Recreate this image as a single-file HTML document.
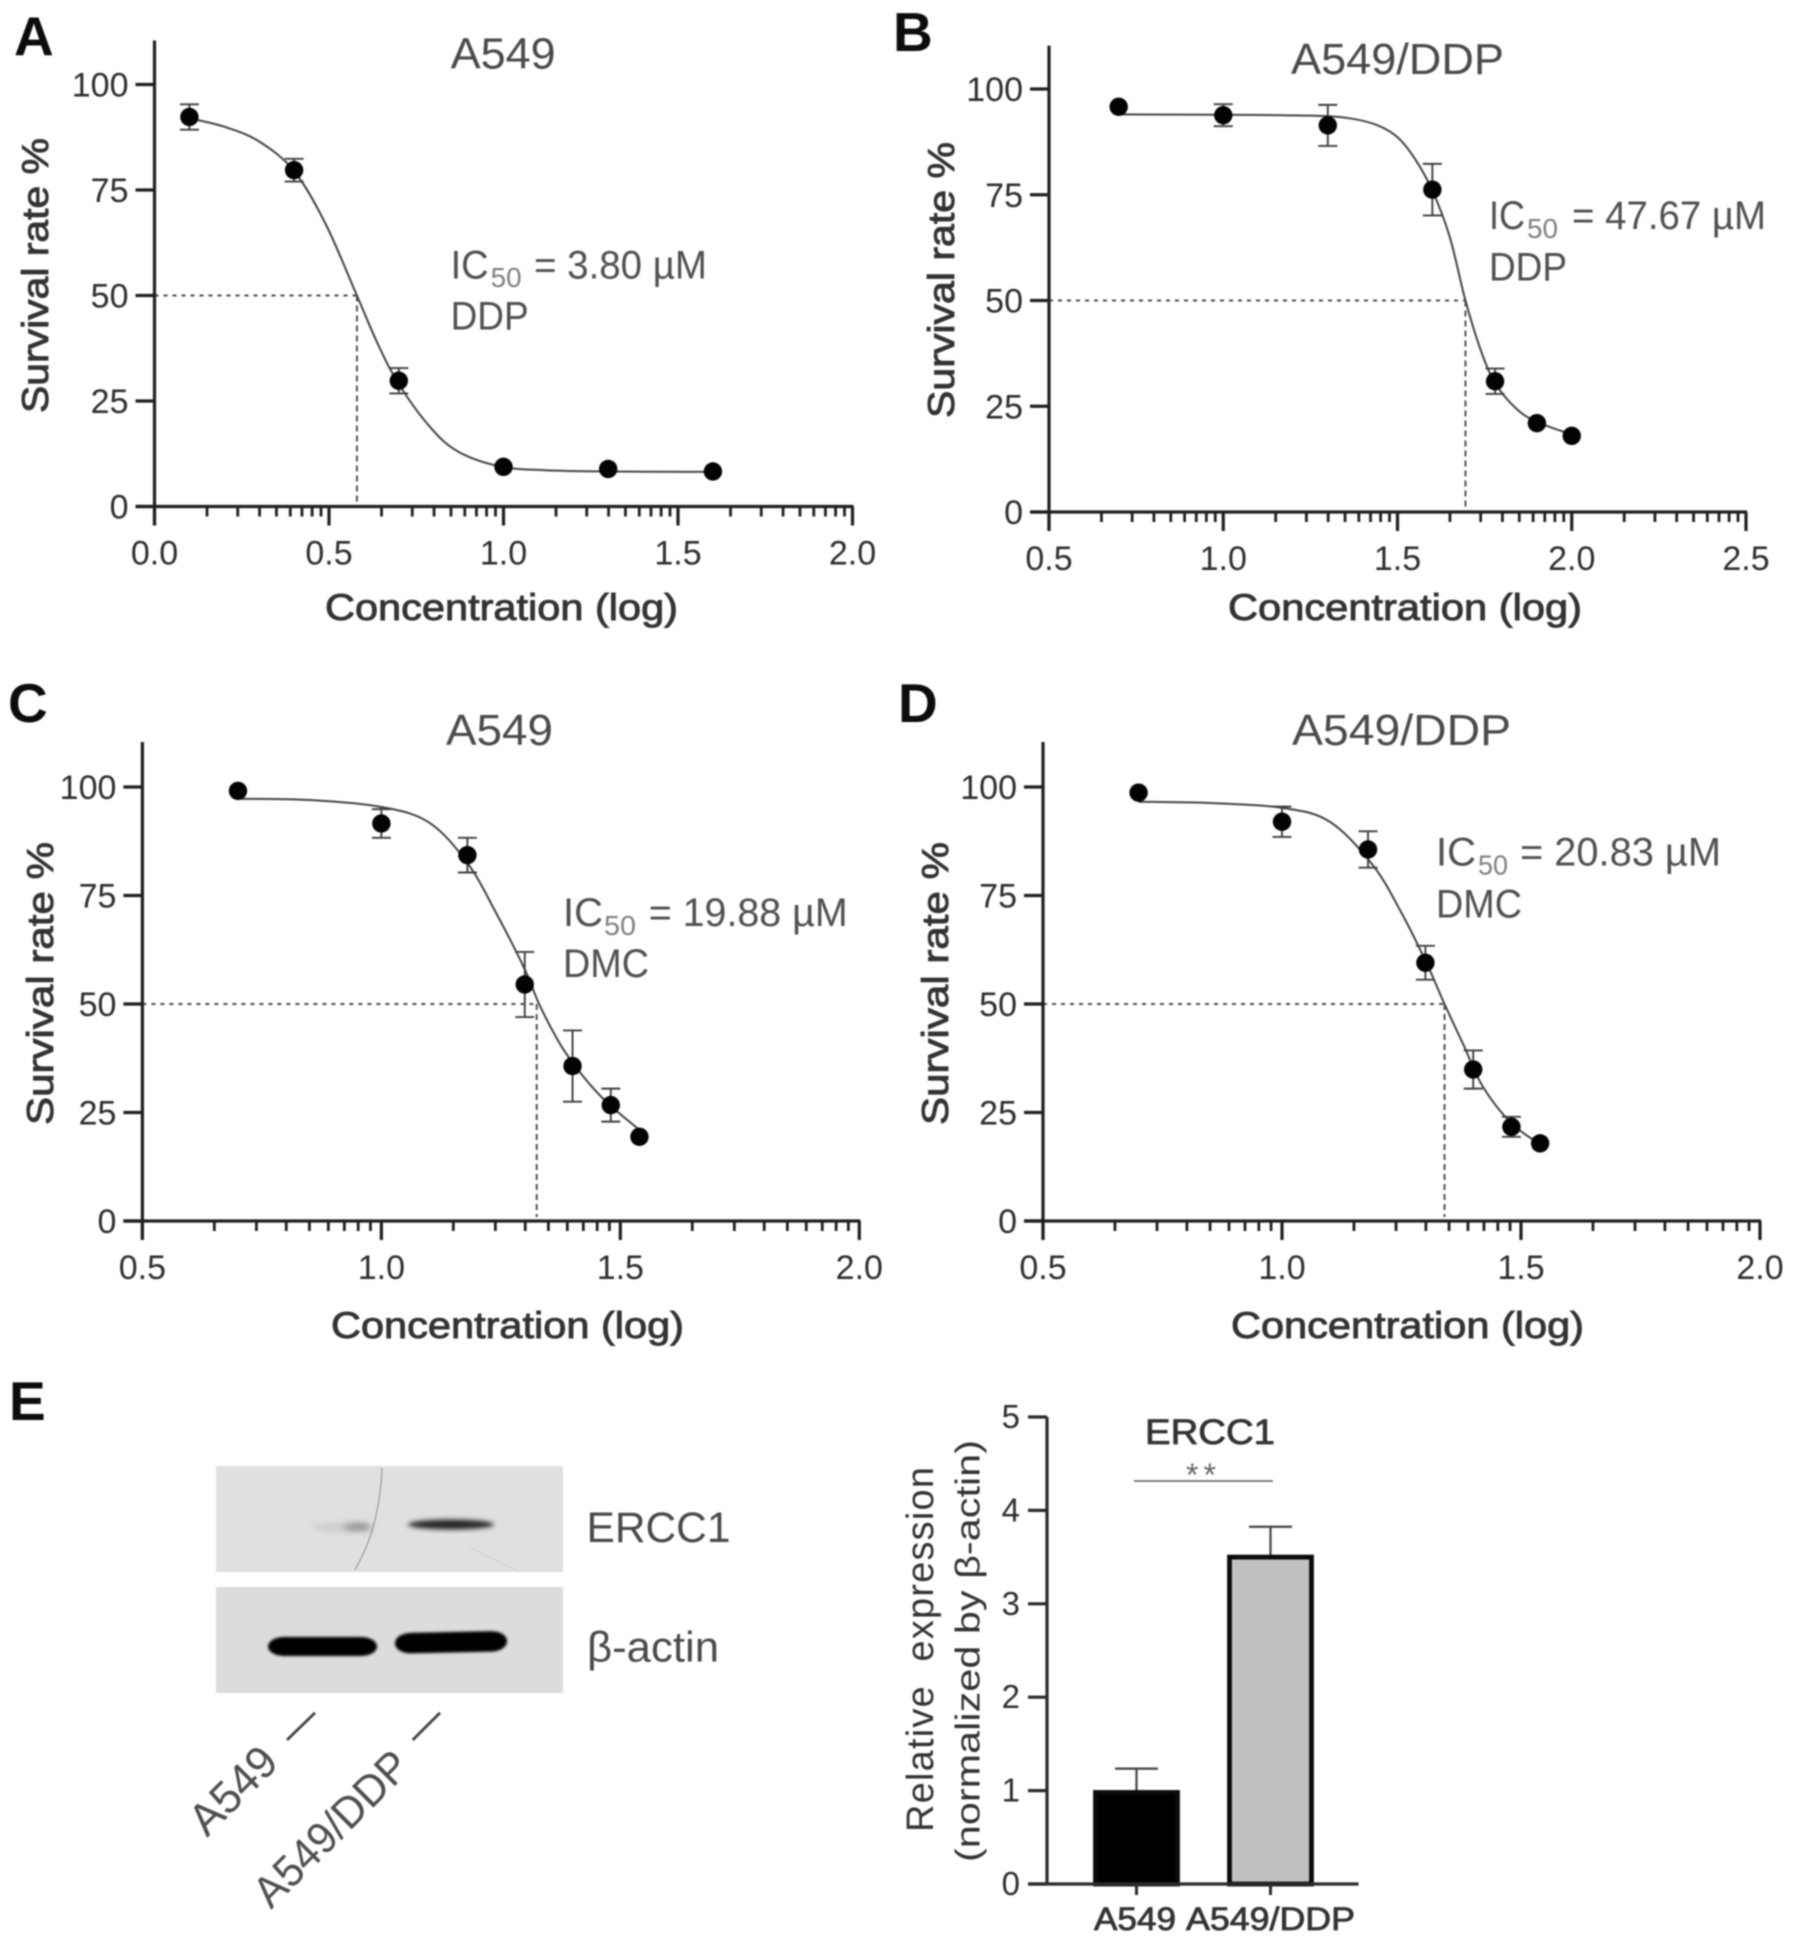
<!DOCTYPE html>
<html lang="en">
<head>
<meta charset="utf-8">
<title>Survival curves and ERCC1 expression</title>
<style>
html,body{margin:0;padding:0;background:#fff;}
#figure{display:block;width:1795px;height:1944px;filter:blur(0.8px);font-family:"Liberation Sans",sans-serif;}
.letter{font-size:55px;font-weight:bold;fill:#0c0c0c;}
.title{font-size:44px;fill:#4a4a4a;}
.ic{font-size:40px;fill:#505050;}
.sub{font-size:28px;fill:#808080;}
.xt{font-size:37px;fill:#333;stroke:#333;stroke-width:0.9px;}
.tick{font-size:34px;fill:#2e2e2e;}
.ylab{font-size:37px;fill:#333;stroke:#333;stroke-width:0.9px;}
</style>
</head>
<body>
<svg id="figure" xmlns="http://www.w3.org/2000/svg" width="1795" height="1944" viewBox="0 0 1795 1944">
<defs>
<filter id="b1" x="-30%" y="-150%" width="160%" height="400%"><feGaussianBlur stdDeviation="2.4"/></filter>
<filter id="b2" x="-50%" y="-150%" width="200%" height="400%"><feGaussianBlur stdDeviation="3.2"/></filter>
<filter id="b3" x="-20%" y="-60%" width="140%" height="220%"><feGaussianBlur stdDeviation="1.2"/></filter>
</defs>
<rect width="1795" height="1944" fill="#fff"/>

<text class="letter" x="14" y="55">A</text>
<text class="letter" x="893" y="51">B</text>
<text class="letter" x="8" y="722">C</text>
<text class="letter" x="898" y="722">D</text>
<text class="letter" x="9" y="1420">E</text>

<text class="title" x="450.6" y="68.4" textLength="105" lengthAdjust="spacingAndGlyphs">A549</text>
<text class="title" x="1291" y="73.8" textLength="213" lengthAdjust="spacingAndGlyphs">A549/DDP</text>
<text class="title" x="446" y="745" textLength="107" lengthAdjust="spacingAndGlyphs">A549</text>
<text class="title" x="1292" y="745" textLength="219" lengthAdjust="spacingAndGlyphs">A549/DDP</text>

<g>
<text class="ic" x="450.6" y="278.5" textLength="38" lengthAdjust="spacingAndGlyphs">IC</text>
<text class="sub" x="490.6" y="287" textLength="31" lengthAdjust="spacingAndGlyphs">50</text>
<text class="ic" x="534" y="278.5" textLength="173" lengthAdjust="spacingAndGlyphs">= 3.80 µM</text>
<text class="ic" x="450.6" y="329.5" textLength="78" lengthAdjust="spacingAndGlyphs">DDP</text>
</g>
<g>
<text class="ic" x="1489" y="229" textLength="36" lengthAdjust="spacingAndGlyphs">IC</text>
<text class="sub" x="1527" y="238" textLength="31" lengthAdjust="spacingAndGlyphs">50</text>
<text class="ic" x="1572" y="229" textLength="194" lengthAdjust="spacingAndGlyphs">= 47.67 µM</text>
<text class="ic" x="1489" y="280.6" textLength="78" lengthAdjust="spacingAndGlyphs">DDP</text>
</g>
<g>
<text class="ic" x="563" y="926" textLength="40" lengthAdjust="spacingAndGlyphs">IC</text>
<text class="sub" x="604" y="935" textLength="32" lengthAdjust="spacingAndGlyphs">50</text>
<text class="ic" x="648.7" y="926" textLength="199" lengthAdjust="spacingAndGlyphs">= 19.88 µM</text>
<text class="ic" x="563" y="977" textLength="86" lengthAdjust="spacingAndGlyphs">DMC</text>
</g>
<g>
<text class="ic" x="1436" y="865.6" textLength="40" lengthAdjust="spacingAndGlyphs">IC</text>
<text class="sub" x="1478" y="874.6" textLength="30" lengthAdjust="spacingAndGlyphs">50</text>
<text class="ic" x="1520" y="865.6" textLength="201" lengthAdjust="spacingAndGlyphs">= 20.83 µM</text>
<text class="ic" x="1436" y="917.7" textLength="86" lengthAdjust="spacingAndGlyphs">DMC</text>
</g>

<text class="xt" x="325" y="620" textLength="353" lengthAdjust="spacingAndGlyphs">Concentration (log)</text>
<text class="xt" x="1228" y="620" textLength="354" lengthAdjust="spacingAndGlyphs">Concentration (log)</text>
<text class="xt" x="331" y="1338" textLength="353" lengthAdjust="spacingAndGlyphs">Concentration (log)</text>
<text class="xt" x="1231" y="1338" textLength="353" lengthAdjust="spacingAndGlyphs">Concentration (log)</text>

<text class="ylab" transform="translate(48,413) rotate(-90)" textLength="275" lengthAdjust="spacingAndGlyphs">Survival rate %</text>
<text class="ylab" transform="translate(954,418) rotate(-90)" textLength="276" lengthAdjust="spacingAndGlyphs">Survival rate %</text>
<text class="ylab" transform="translate(53,1125) rotate(-90)" textLength="283" lengthAdjust="spacingAndGlyphs">Survival rate %</text>
<text class="ylab" transform="translate(948,1125) rotate(-90)" textLength="283" lengthAdjust="spacingAndGlyphs">Survival rate %</text>

<g id="panels"></g>

<g>
<rect x="216" y="1466" width="347" height="106" fill="#e0e0e0"/>
<path d="M382 1468 Q381 1495 375 1520 T355 1570" fill="none" stroke="#959595" stroke-width="1.1"/>
<path d="M470 1548 L518 1571" fill="none" stroke="#d0d0d0" stroke-width="1"/>
<ellipse cx="340" cy="1527" rx="28" ry="3.5" fill="#c8c8c8" filter="url(#b2)"/>
<ellipse cx="358" cy="1527" rx="14" ry="3.6" fill="#8e8e8e" filter="url(#b2)"/>
<ellipse cx="451" cy="1524.5" rx="43" ry="5" fill="#262626" filter="url(#b1)"/>
</g>
<g>
<rect x="216" y="1587" width="347" height="106" fill="#dcdcdc"/>
<rect x="268" y="1637" width="109" height="19" rx="16" ry="9.5" fill="#030303" filter="url(#b3)"/>
<rect x="395" y="1632" width="112" height="20.5" rx="16" ry="10" fill="#030303" transform="rotate(-1.2 451 1642)" filter="url(#b3)"/>
</g>
<text x="586.5" y="1542" font-size="43" fill="#4a4a4a" textLength="144" lengthAdjust="spacingAndGlyphs">ERCC1</text>
<text x="587" y="1661.7" font-size="43" fill="#4a4a4a" textLength="132" lengthAdjust="spacingAndGlyphs">β-actin</text>
<text transform="translate(207,1838) rotate(-45)" font-size="45" fill="#4f4f4f" textLength="104" lengthAdjust="spacingAndGlyphs">A549</text>
<line x1="287" y1="1740" x2="315" y2="1712.7" stroke="#444" stroke-width="2.8"/>
<text transform="translate(271,1910) rotate(-45)" font-size="44" fill="#4f4f4f" textLength="200" lengthAdjust="spacingAndGlyphs">A549/DDP</text>
<line x1="412.7" y1="1740" x2="440" y2="1712.7" stroke="#444" stroke-width="2.8"/>

<text transform="translate(933,1832) rotate(-90)" font-size="38" fill="#333" textLength="365" lengthAdjust="spacing" xml:space="preserve">Relative  expression</text>
<text transform="translate(979.5,1862) rotate(-90)" font-size="34" fill="#333" textLength="422" lengthAdjust="spacingAndGlyphs">(normalized by β-actin)</text>
<text x="1145" y="1444" font-size="35" fill="#333" stroke="#333" stroke-width="0.8" textLength="130" lengthAdjust="spacingAndGlyphs">ERCC1</text>
<line x1="1134" y1="1481" x2="1273" y2="1481" stroke="#555" stroke-width="1.6"/>
<text x="1201" y="1486" font-size="32" fill="#666" text-anchor="middle" textLength="30" lengthAdjust="spacing">**</text>
<g id="bars"></g>
</svg>

<script>
/* ---------- survival curve data ---------- */
const yTickValues = [0, 25, 50, 75, 100];

const aXTicks = [0.0, 0.5, 1.0, 1.5, 2.0];
const aTickLabels = ['0.0', '0.5', '1.0', '1.5', '2.0'];
const aLogConc = [0.1, 0.4, 0.7, 1.0, 1.3, 1.6];
const aSurvival = [92.3, 79.7, 29.8, 9.4, 8.9, 8.3];
const aError = [3, 2.7, 3, 0, 0, 0];
const aCurveX = [0.1, 0.2, 0.3, 0.4, 0.49, 0.58, 0.64, 0.7, 0.79, 0.87, 0.99, 1.12, 1.3, 1.6];
const aCurveY = [92, 90, 86.5, 79.5, 67, 50, 38.5, 29, 18.8, 13, 9.5, 8.6, 8.3, 8.2];
const aIc50 = 0.58;

const bXTicks = [0.5, 1.0, 1.5, 2.0, 2.5];
const bTickLabels = ['0.5', '1.0', '1.5', '2.0', '2.5'];
const bLogConc = [0.7, 1.0, 1.3, 1.6, 1.78, 1.9, 2.0];
const bSurvival = [95.8, 93.8, 91.4, 76.2, 30.9, 21, 18];
const bError = [0, 2.6, 4.85, 6.1, 3, 0, 0];
const bCurveX = [0.7, 1.0, 1.25, 1.36, 1.44, 1.5, 1.55, 1.6, 1.65, 1.695, 1.74, 1.78, 1.84, 1.9, 2.0];
const bCurveY = [94, 93.9, 93.7, 93.1, 91.5, 88.6, 83.5, 76, 65, 50, 38, 30.5, 24.5, 21.3, 18.3];
const bIc50 = 1.695;

const cXTicks = [0.5, 1.0, 1.5, 2.0];
const cTickLabels = ['0.5', '1.0', '1.5', '2.0'];
const cLogConc = [0.7, 1.0, 1.18, 1.3, 1.4, 1.48, 1.54];
const cSurvival = [99.1, 91.6, 84.3, 54.5, 35.7, 26.7, 19.4];
const cError = [0, 3.3, 4, 7.5, 8.2, 3.8, 0];
const cCurveX = [0.7, 0.85, 1.0, 1.1, 1.18, 1.24, 1.3, 1.33, 1.37, 1.4, 1.44, 1.48, 1.54];
const cCurveY = [97.3, 97, 95.4, 91.8, 82.5, 71, 58, 50, 41.5, 36.5, 31, 26.5, 21];
const cIc50 = 1.325;

const dXTicks = [0.5, 1.0, 1.5, 2.0];
const dTickLabels = ['0.5', '1.0', '1.5', '2.0'];
const dLogConc = [0.7, 1.0, 1.18, 1.3, 1.4, 1.48, 1.54];
const dSurvival = [98.7, 92, 85.6, 59.5, 34.9, 21.7, 17.9];
const dError = [0, 3.5, 4.2, 3.9, 4.4, 2.3, 0];
const dCurveX = [0.7, 0.85, 1.0, 1.1, 1.19, 1.25, 1.3, 1.34, 1.38, 1.42, 1.48, 1.54];
const dCurveY = [96.6, 96.3, 95.2, 92, 82, 71, 60, 50, 40.5, 31, 22.5, 17.7];
const dIc50 = 1.34;

/* ---------- bar chart data ---------- */
const barCategories = ['A549', 'A549/DDP'];
const barValues = [0.98, 3.5];
const barErrors = [0.255, 0.325];
const barYTicks = [0, 1, 2, 3, 4, 5];
const barYLabels = ['0', '1', '2', '3', '4', '5'];

/* ---------- layout ---------- */
const NS = 'http://www.w3.org/2000/svg';
function make(parent, tag, attrs, text) {
  const node = document.createElementNS(NS, tag);
  for (const k in attrs) node.setAttribute(k, attrs[k]);
  if (text !== undefined) node.textContent = text;
  parent.appendChild(node);
  return node;
}

function smoothPath(pts) {
  let d = 'M' + pts[0][0].toFixed(2) + ' ' + pts[0][1].toFixed(2);
  for (let i = 0; i < pts.length - 1; i++) {
    const p0 = pts[Math.max(i - 1, 0)], p1 = pts[i], p2 = pts[i + 1], p3 = pts[Math.min(i + 2, pts.length - 1)];
    const c1x = p1[0] + (p2[0] - p0[0]) / 6, c1y = p1[1] + (p2[1] - p0[1]) / 6;
    const c2x = p2[0] - (p3[0] - p1[0]) / 6, c2y = p2[1] - (p3[1] - p1[1]) / 6;
    d += ' C' + c1x.toFixed(2) + ' ' + c1y.toFixed(2) + ' ' + c2x.toFixed(2) + ' ' + c2y.toFixed(2) + ' ' + p2[0].toFixed(2) + ' ' + p2[1].toFixed(2);
  }
  return d;
}

function drawPanel(id, frame, xTicks, tickLabels, logConc, survival, errors, curveX, curveY, ic50) {
  const root = document.getElementById('panels');
  const g = make(root, 'g', {});
  
  
  const xMin = xTicks[0], xMax = xTicks[xTicks.length - 1];
  const xs = v => frame.left + (v - xMin) / (xMax - xMin) * (frame.right - frame.left);
  const ys = v => frame.bottom - v / 100 * (frame.bottom - frame.y100);
  const axisColor = '#1f1f1f';

  /* guides */
  const gx = xs(ic50), gy = ys(50);
  const hGuide = make(g, 'line', {x1: frame.left, y1: gy, x2: gx, y2: gy, stroke: '#4c4c4c', 'stroke-width': 1.9, 'stroke-dasharray': '4 5'});
  
  
  const vGuide = make(g, 'line', {x1: gx, y1: gy, x2: gx, y2: frame.bottom - 4, stroke: '#4c4c4c', 'stroke-width': 1.9, 'stroke-dasharray': '6 4'});
  
  

  /* axes */
  const yAxis = make(g, 'line', {x1: frame.left, y1: frame.top, x2: frame.left, y2: frame.bottom + 19, stroke: axisColor, 'stroke-width': 3.2});
  
  
  const xAxis = make(g, 'line', {x1: frame.left - 19, y1: frame.bottom, x2: frame.right + 1, y2: frame.bottom, stroke: axisColor, 'stroke-width': 3.2});
  
  

  yTickValues.forEach(v => {
    const py = ys(v);
    const t = make(g, 'line', {x1: frame.left - 19, y1: py, x2: frame.left, y2: py, stroke: axisColor, 'stroke-width': 3.2});
    
    
    const l = make(g, 'text', {x: frame.left - 26, y: py + 12, 'text-anchor': 'end', 'class': 'tick'}, String(v));
    
    
  });

  xTicks.forEach((v, i) => {
    const px = xs(v);
    const t = make(g, 'line', {x1: px, y1: frame.bottom, x2: px, y2: frame.bottom + 19, stroke: axisColor, 'stroke-width': 3.2});
    
    
    const l = make(g, 'text', {x: px, y: frame.bottom + 58, 'text-anchor': 'middle', 'class': 'tick'}, tickLabels[i]);
    
    
    if (i < xTicks.length - 1) {
      const step = xTicks[i + 1] - v;
      for (let k = 2; k <= 9; k++) {
        const mx = xs(v + step * Math.log10(k));
        const m = make(g, 'line', {x1: mx, y1: frame.bottom, x2: mx, y2: frame.bottom + 10, stroke: axisColor, 'stroke-width': 2.8});
        
        
      }
    }
  });

  /* fit curve */
  const pts = curveX.map((v, i) => [xs(v), ys(curveY[i])]);
  const curve = make(g, 'path', {d: smoothPath(pts), fill: 'none', stroke: '#444', 'stroke-width': 2});
  
  

  /* points and error bars */
  logConc.forEach((v, i) => {
    const px = xs(v), py = ys(survival[i]), e = errors[i];
    if (e > 0) {
      const bar = make(g, 'path', {
        d: 'M' + px + ' ' + ys(survival[i] + e) + 'V' + ys(survival[i] - e) +
           'M' + (px - 9.5) + ' ' + ys(survival[i] + e) + 'H' + (px + 9.5) +
           'M' + (px - 9.5) + ' ' + ys(survival[i] - e) + 'H' + (px + 9.5),
        fill: 'none', stroke: '#3f3f3f', 'stroke-width': 1.9});
      
      
    }
    const dot = make(g, 'circle', {cx: px, cy: py, r: 9.2, fill: '#030303'});
    
    
  });
}

drawPanel('a', {left: 154.5, right: 852.5, top: 40.5, bottom: 506.5, y100: 84.5}, aXTicks, aTickLabels, aLogConc, aSurvival, aError, aCurveX, aCurveY, aIc50);
drawPanel('b', {left: 1049, right: 1746, top: 45.6, bottom: 512, y100: 89}, bXTicks, bTickLabels, bLogConc, bSurvival, bError, bCurveX, bCurveY, bIc50);
drawPanel('c', {left: 142.4, right: 859.3, top: 742, bottom: 1221, y100: 787}, cXTicks, cTickLabels, cLogConc, cSurvival, cError, cCurveX, cCurveY, cIc50);
drawPanel('d', {left: 1043, right: 1760, top: 742, bottom: 1221, y100: 787}, dXTicks, dTickLabels, dLogConc, dSurvival, dError, dCurveX, dCurveY, dIc50);

/* ---------- bar chart ---------- */
(function () {
  const root = document.getElementById('bars');
  const left = 1047, bottom = 1884, top = 1417, right = 1358.5;
  const ys = v => bottom - v / 5 * (bottom - top);
  const xb = i => 1136.5 + i * 134;
  const color = '#2a2a2a';
  const fills = ['#000000', '#c0c0c0'];

  barValues.forEach((v, i) => {
    const cx = xb(i), tipY = ys(v + barErrors[i]);
    const err = make(root, 'path', {d: 'M' + cx + ' ' + ys(v) + 'V' + tipY + 'M' + (cx - 21.5) + ' ' + tipY + 'H' + (cx + 21.5), fill: 'none', stroke: '#444', 'stroke-width': 2.2});
    
    
    const bar = make(root, 'rect', {x: cx - 41, y: ys(v), width: 82, height: bottom - ys(v), fill: fills[i], stroke: '#0a0a0a', 'stroke-width': 4.8});
    
    
    const t = make(root, 'line', {x1: cx, y1: bottom, x2: cx, y2: bottom + 11, stroke: color, 'stroke-width': 3});
    
    
  });

  const labelSpec = [[1094, 82], [1186, 169]];
  barCategories.forEach((c, i) => {
    const l = make(root, 'text', {x: labelSpec[i][0], y: 1930, 'font-size': 32, fill: '#333', stroke: '#333', 'stroke-width': 0.8, textLength: labelSpec[i][1], lengthAdjust: 'spacingAndGlyphs'}, c);
    
    
  });

  const yAxis = make(root, 'line', {x1: left, y1: top, x2: left, y2: bottom, stroke: color, 'stroke-width': 3.2});
  
  
  const xAxis = make(root, 'line', {x1: left - 19, y1: bottom, x2: right, y2: bottom, stroke: color, 'stroke-width': 3.2});
  
  

  barYTicks.forEach((v, i) => {
    const py = ys(v);
    const t = make(root, 'line', {x1: left - 19, y1: py, x2: left, y2: py, stroke: color, 'stroke-width': 3.2});
    
    
    const l = make(root, 'text', {x: 1020, y: py + 11, 'text-anchor': 'end', 'font-size': 33, fill: '#2e2e2e'}, barYLabels[i]);
    
    
  });
})();
</script>
</body>
</html>
